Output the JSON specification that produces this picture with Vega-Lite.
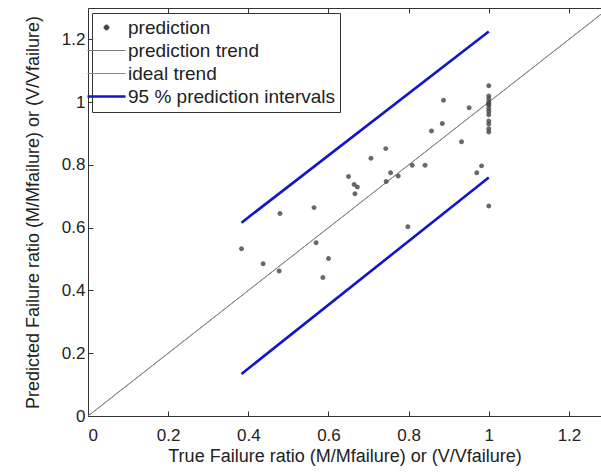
{
  "$schema": "https://vega.github.io/schema/vega-lite/v6.json",
  "width": 513,
  "height": 408,
  "autosize": {"type": "none"},
  "padding": {"left": 88, "top": 8, "right": 0, "bottom": 57},
  "background": "white",
  "config": {
    "view": {"stroke": null},
    "font": "Liberation Sans",
    "axis": {
      "grid": false,
      "domainColor": "#333333",
      "tickColor": "#333333",
      "tickSize": -5,
      "labelFont": "Liberation Sans",
      "labelFontSize": 17,
      "labelColor": "#222222",
      "titleFont": "Liberation Sans",
      "titleFontSize": 18,
      "titleFontWeight": "normal",
      "titleColor": "#222222"
    },
    "legend": {
      "orient": "none",
      "legendX": 4,
      "legendY": 5,
      "strokeColor": "#333333",
      "fillColor": "white",
      "padding": 5,
      "labelFont": "Liberation Sans",
      "labelFontSize": 19,
      "labelColor": "#222222",
      "labelLimit": 400,
      "labelOffset": 12,
      "symbolSize": 900,
      "symbolType": "stroke",
      "rowPadding": 3,
      "title": null
    }
  },
  "datasets": {
    "pts": [
      {"series": "prediction", "x": 0.383, "y": 0.533},
      {"series": "prediction", "x": 0.437, "y": 0.485},
      {"series": "prediction", "x": 0.477, "y": 0.462},
      {"series": "prediction", "x": 0.479, "y": 0.645},
      {"series": "prediction", "x": 0.564, "y": 0.664},
      {"series": "prediction", "x": 0.569, "y": 0.552},
      {"series": "prediction", "x": 0.586, "y": 0.441},
      {"series": "prediction", "x": 0.6, "y": 0.502},
      {"series": "prediction", "x": 0.65, "y": 0.763},
      {"series": "prediction", "x": 0.664, "y": 0.738},
      {"series": "prediction", "x": 0.672, "y": 0.73},
      {"series": "prediction", "x": 0.666, "y": 0.708},
      {"series": "prediction", "x": 0.706, "y": 0.821},
      {"series": "prediction", "x": 0.743, "y": 0.852},
      {"series": "prediction", "x": 0.744, "y": 0.747},
      {"series": "prediction", "x": 0.755, "y": 0.775},
      {"series": "prediction", "x": 0.774, "y": 0.765},
      {"series": "prediction", "x": 0.798, "y": 0.603},
      {"series": "prediction", "x": 0.809, "y": 0.799},
      {"series": "prediction", "x": 0.841, "y": 0.799},
      {"series": "prediction", "x": 0.857, "y": 0.908},
      {"series": "prediction", "x": 0.884, "y": 0.932},
      {"series": "prediction", "x": 0.887, "y": 1.006},
      {"series": "prediction", "x": 0.932, "y": 0.874},
      {"series": "prediction", "x": 0.951, "y": 0.982},
      {"series": "prediction", "x": 0.97, "y": 0.775},
      {"series": "prediction", "x": 0.982, "y": 0.797},
      {"series": "prediction", "x": 1.0, "y": 1.052},
      {"series": "prediction", "x": 1.0, "y": 1.02},
      {"series": "prediction", "x": 1.0, "y": 1.01},
      {"series": "prediction", "x": 1.0, "y": 1.0},
      {"series": "prediction", "x": 1.0, "y": 0.995},
      {"series": "prediction", "x": 1.0, "y": 0.99},
      {"series": "prediction", "x": 1.0, "y": 0.98},
      {"series": "prediction", "x": 1.0, "y": 0.97},
      {"series": "prediction", "x": 1.0, "y": 0.96},
      {"series": "prediction", "x": 1.0, "y": 0.94},
      {"series": "prediction", "x": 1.0, "y": 0.93},
      {"series": "prediction", "x": 1.0, "y": 0.915},
      {"series": "prediction", "x": 1.0, "y": 0.905},
      {"series": "prediction", "x": 1.0, "y": 0.669}
    ],
    "lines": [
      {"series": "prediction trend", "grp": "trend", "x": 0.0, "y": 0.0},
      {"series": "prediction trend", "grp": "trend", "x": 1.28, "y": 1.28},
      {"series": "ideal trend", "grp": "ideal", "x": 0.0, "y": 0.0},
      {"series": "ideal trend", "grp": "ideal", "x": 1.28, "y": 1.28},
      {"series": "95 % prediction intervals", "grp": "upper", "x": 0.383, "y": 0.616},
      {"series": "95 % prediction intervals", "grp": "upper", "x": 1.0, "y": 1.225},
      {"series": "95 % prediction intervals", "grp": "lower", "x": 0.383, "y": 0.134},
      {"series": "95 % prediction intervals", "grp": "lower", "x": 1.0, "y": 0.76}
    ]
  },
  "layer": [
    {
      "data": {"name": "lines"},
      "mark": {"type": "line", "clip": true},
      "encoding": {
        "x": {
          "field": "x", "type": "quantitative",
          "scale": {"domain": [0, 1.28], "nice": false, "zero": false},
          "axis": {
            "orient": "bottom",
            "values": [0, 0.2, 0.4, 0.6, 0.8, 1, 1.2],
            "format": "~g",
            "labelPadding": 16,
            "titlePadding": 4,
            "title": "True  Failure ratio (M/Mfailure) or (V/Vfailure)"
          }
        },
        "y": {
          "field": "y", "type": "quantitative",
          "scale": {"domain": [0, 1.3], "nice": false, "zero": false},
          "axis": {
            "values": [0, 0.2, 0.4, 0.6, 0.8, 1, 1.2],
            "format": "~g",
            "labelPadding": 8,
            "titlePadding": 19,
            "title": "Predicted  Failure ratio (M/Mfailure) or (V/Vfailure)"
          }
        },
        "detail": {"field": "grp"},
        "color": {
          "field": "series", "type": "nominal",
          "scale": {
            "domain": ["prediction", "prediction trend", "ideal trend", "95 % prediction intervals"],
            "range": ["#444444", "#7a7a7a", "#8a8a8a", "#1414c8"]
          },
          "legend": {
            "encode": {
              "symbols": {
                "update": {
                  "shape": {"signal": "datum.value === 'prediction' ? 'M-0.13,0A0.13,0.13 0 1,1 0.13,0A0.13,0.13 0 1,1 -0.13,0Z' : 'stroke'"},
                  "size": {"value": 1444},
                  "fill": {"signal": "datum.value === 'prediction' ? '#555555' : 'transparent'"},
                  "stroke": {"signal": "datum.value === '95 % prediction intervals' ? '#1414c8' : (datum.value === 'prediction' ? 'transparent' : '#808080')"},
                  "strokeWidth": {"signal": "datum.value === '95 % prediction intervals' ? 2.6 : 1"},
                  "opacity": {"value": 1}
                }
              }
            }
          }
        },
        "strokeWidth": {
          "condition": {"test": "datum.series === '95 % prediction intervals'", "value": 2.6},
          "value": 1
        }
      }
    },
    {
      "data": {"name": "pts"},
      "mark": {
        "type": "point",
        "shape": "M-0.13,0A0.13,0.13 0 1,1 0.13,0A0.13,0.13 0 1,1 -0.13,0Z",
        "size": 1444,
        "filled": true,
        "opacity": 0.8
      },
      "encoding": {
        "x": {"field": "x", "type": "quantitative", "axis": null},
        "y": {"field": "y", "type": "quantitative"},
        "color": {"field": "series", "type": "nominal"}
      }
    },
    {
      "data": {"name": "lines"},
      "mark": {"type": "point", "opacity": 0},
      "encoding": {
        "x": {
          "field": "x", "type": "quantitative",
          "axis": {
            "orient": "top",
            "values": [0, 0.2, 0.4, 0.6, 0.8, 1, 1.2],
            "labels": false,
            "title": null
          }
        }
      }
    }
  ],
  "resolve": {"axis": {"x": "independent"}}
}
